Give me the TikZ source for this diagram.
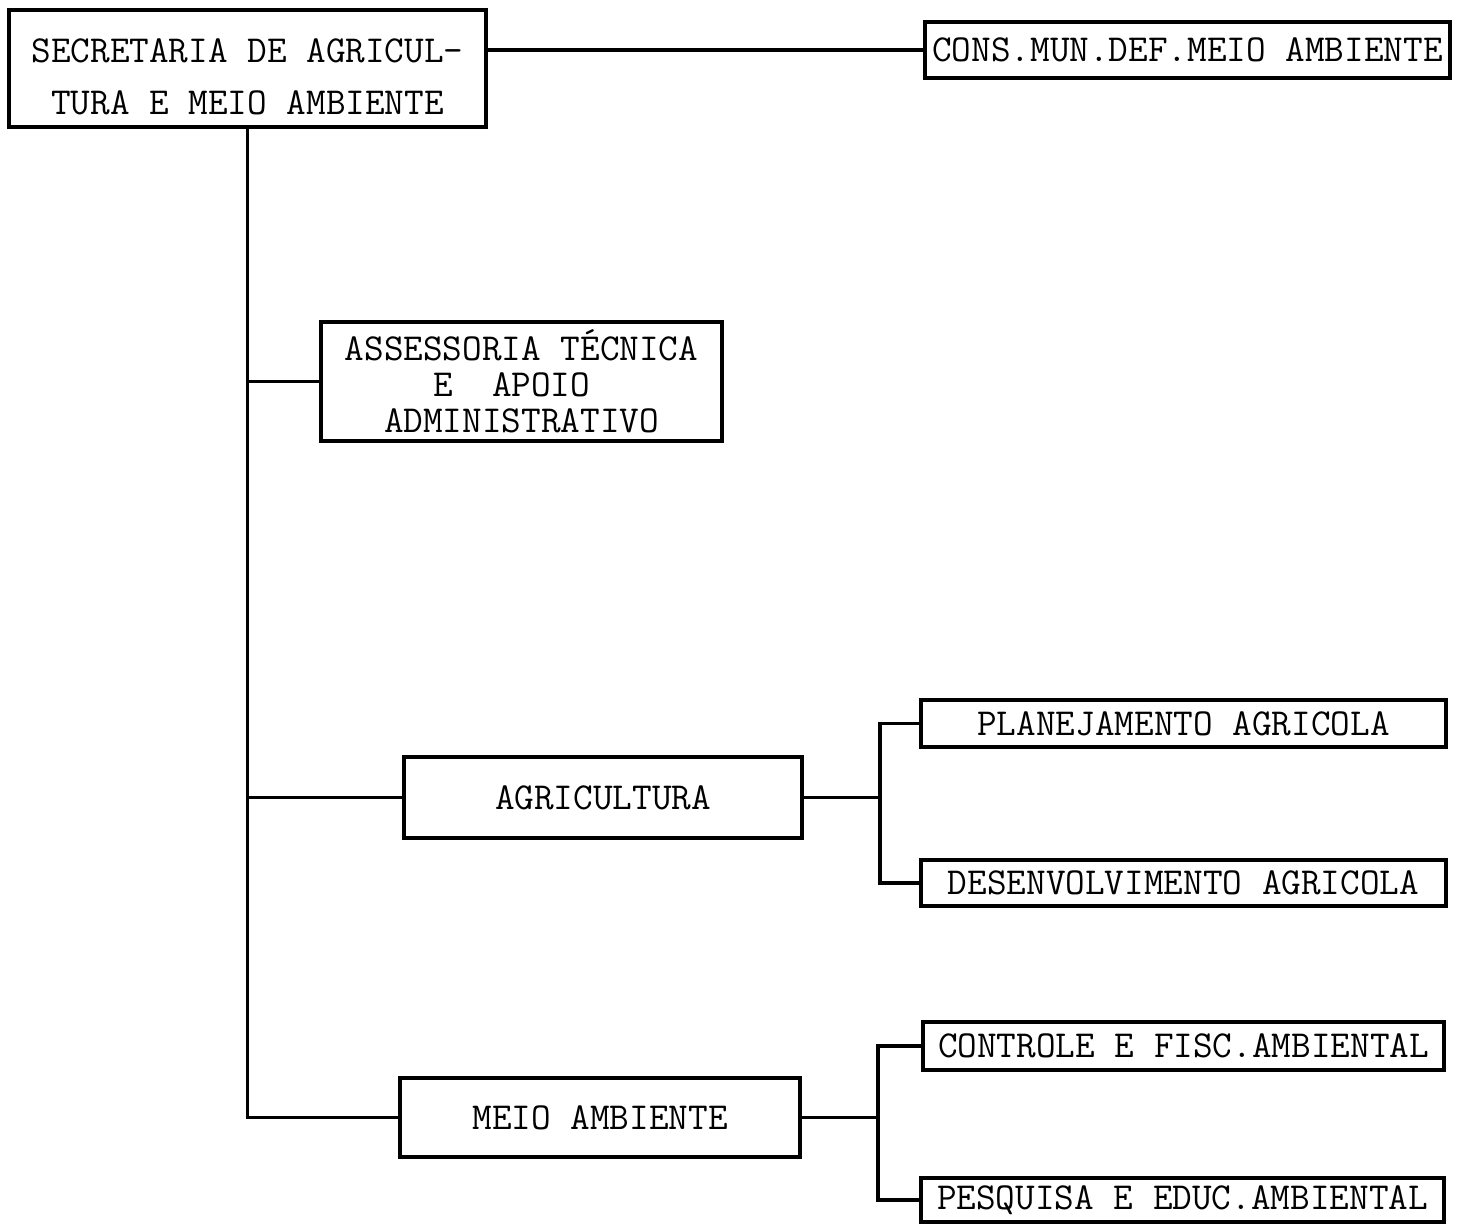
\documentclass[tikz,border=0pt]{standalone}
\usepackage{fontspec}
\usepackage{tikz}
\newcommand{\typesize}{\ttfamily\fontsize{21.7pt}{22pt}\selectfont}

\begin{document}
\begin{tikzpicture}[x=0.02cm,y=-0.02cm,
  orgbox/.style={draw, line width=1.8pt, inner sep=0pt, font=\typesize},
  link/.style={line width=1.8pt}]
\useasboundingbox (0,0) rectangle (1469,1226);
\node[orgbox, minimum width=9.54cm, minimum height=2.34cm, align=center, font=\ttfamily\fontsize{21.7pt}{29.6pt}\selectfont] (sec) at (247.5,68.5) {\rule{0pt}{0.8cm}SECRETARIA DE AGRICUL-\\TURA E MEIO AMBIENTE};
\node[orgbox, minimum width=10.5cm, minimum height=1.12cm] (cons) at (1187.5,50) {\raisebox{-0.12cm}{CONS.MUN.DEF.MEIO AMBIENTE}};
\node[orgbox, minimum width=8.02cm, minimum height=2.38cm, align=center, font=\ttfamily\fontsize{21.7pt}{20.6pt}\selectfont] (ass) at (521.5,381.5) {ASSESSORIA TÉCNICA\\E~~APOIO~~\\ADMINISTRATIVO};
\node[orgbox, minimum width=7.96cm, minimum height=1.62cm] (agr) at (603,797.5) {AGRICULTURA};
\node[orgbox, minimum width=8cm, minimum height=1.58cm] (mam) at (600,1117.5) {MEIO AMBIENTE};
\node[orgbox, minimum width=10.5cm, minimum height=0.94cm] (pla) at (1183.5,723.5) {PLANEJAMENTO AGRICOLA};
\node[orgbox, minimum width=10.5cm, minimum height=0.92cm] (des) at (1183.5,883) {DESENVOLVIMENTO AGRICOLA};
\node[orgbox, minimum width=10.42cm, minimum height=0.96cm] (con) at (1183.5,1046) {CONTROLE E FISC.AMBIENTAL};
\node[orgbox, minimum width=10.46cm, minimum height=0.88cm] (pes) at (1182.5,1200) {PESQUISA E EDUC.AMBIENTAL};
\coordinate (fa) at (880,797.5);
\coordinate (fm) at (878,1117.5);
% main branches
\draw[link] (cons.west -| sec.east) -- (cons.west);
\draw[link] (sec.south) |- (mam.west);
\draw[link] (sec.south |- ass.west) -- (ass.west);
\draw[link] (sec.south |- agr.west) -- (agr.west);
% sub branches
\draw[link] (agr.east) -- (fa);
\draw[link] (pla.west) -| (fa) |- (des.west);
\draw[link] (mam.east) -- (fm);
\draw[link] (con.west) -| (fm) |- (pes.west);
\end{tikzpicture}
\end{document}
